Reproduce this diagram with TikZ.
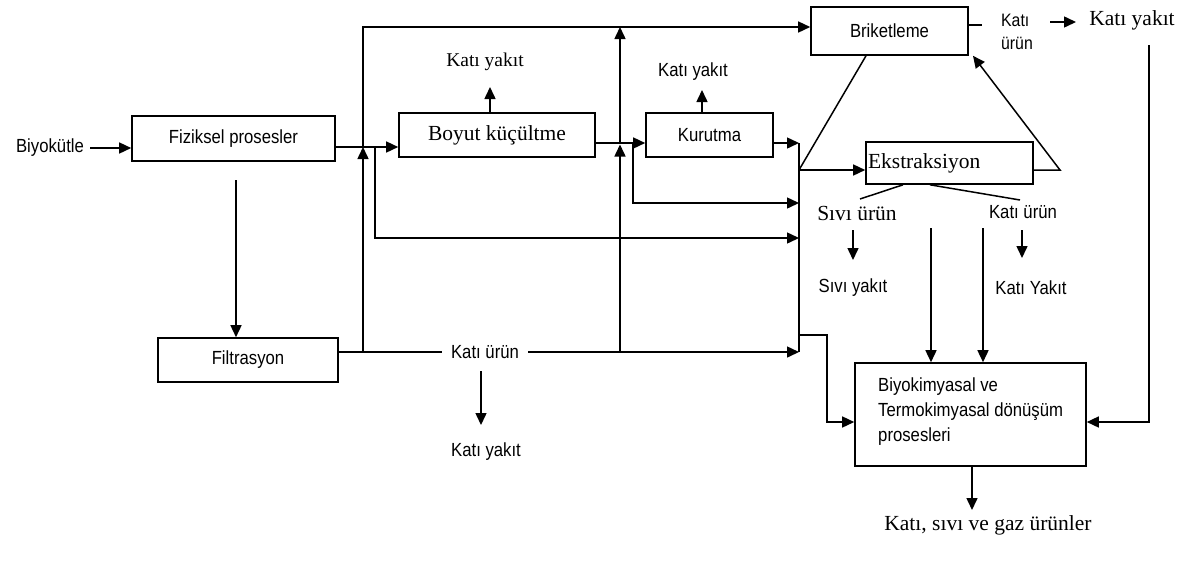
\documentclass[tikz,border=0pt]{standalone}
\usepackage{fontspec}
\setmainfont{Liberation Serif}
\setsansfont[FakeStretch=0.88]{Liberation Sans}
\usetikzlibrary{arrows.meta}

\tikzset{
  ln/.style={line width=1.5pt},
  arr/.style={ln,-{Triangle[length=12pt,width=11pt]}},
  procbox/.style={draw,line width=1.6pt,inner sep=0pt},
  sanslbl/.style={font=\sffamily\fontsize{19}{25}\selectfont,inner sep=1pt},
  seriflbl/.style={font=\rmfamily\fontsize{21.5}{25}\selectfont,inner sep=1pt},
}

\begin{document}
\begin{tikzpicture}[x=1pt,y=-1pt]
\useasboundingbox (0,0) rectangle (1189,571);

% process boxes
\node[procbox,sanslbl,inner sep=0pt,minimum width=203pt,minimum height=45pt] (fiz) at (233.5,138.5) {Fiziksel prosesler};
\node[procbox,seriflbl,inner sep=0pt,minimum width=196pt,minimum height=44pt] (boy) at (497,135) {Boyut küçültme};
\node[procbox,sanslbl,inner sep=0pt,minimum width=127pt,minimum height=44pt] (kur) at (709.5,135) {Kurutma};
\node[procbox,sanslbl,inner sep=0pt,minimum width=157pt,minimum height=48pt] (bri) at (889.5,31) {Briketleme};
\node[procbox,seriflbl,inner ysep=0pt,inner xsep=2pt,text width=163pt,align=left,minimum height=42pt] (eks) at (949.5,163) {Ekstraksiyon};
\node[procbox,sanslbl,inner sep=0pt,minimum width=180pt,minimum height=44pt] (fil) at (248,360) {Filtrasyon};
\node[procbox,minimum width=231pt,minimum height=103pt] (bkm) at (970.5,414.5) {};
\node[sanslbl,anchor=west,align=left,inner sep=0pt] (bkmt) at (878,412) {Biyokimyasal ve\\Termokimyasal dönüşüm\\prosesleri};

% free labels
\node[sanslbl] (bio) at (50,148) {Biyokütle};
\node[seriflbl,font=\rmfamily\fontsize{19.5}{22}\selectfont] (ky4) at (485,62) {Katı yakıt};
\node[sanslbl] (ky5) at (693,72) {Katı yakıt};
\node[sanslbl] (ku1) at (485,352) {Katı ürün};
\node[sanslbl] (ky1) at (486,452) {Katı yakıt};
\node[seriflbl] (su) at (857,213) {Sıvı ürün};
\node[sanslbl] (ku3) at (1023,212) {Katı ürün};
\node[sanslbl] (sy) at (853,288) {Sıvı yakıt};
\node[sanslbl] (ky3) at (1031,288) {Katı Yakıt};
\node[sanslbl,align=left,font=\sffamily\fontsize{18}{23}\selectfont] (ku2) at (1017,32) {Katı\\ürün};
\node[seriflbl] (ky2) at (1132,20) {Katı yakıt};
\node[seriflbl] (out) at (988,525) {Katı, sıvı ve gaz ürünler};

% junctions and bends
\coordinate (jA) at (363,147);
\coordinate (jB) at (375,147);
\coordinate (tT) at (363,27);
\coordinate (jC) at (620,143);
\coordinate (jD) at (633,143);
\coordinate (bT) at (799,143);
\coordinate (bE) at (799,170);
\coordinate (bD) at (799,203);
\coordinate (bM) at (799,238);
\coordinate (bK) at (799,335);
\coordinate (bB) at (799,352);
\coordinate (cK1) at (827,335);
\coordinate (cK2) at (827,422);
\coordinate (eR) at (1060,170);
\coordinate (cR1) at (1149,45);
\coordinate (cR2) at (1149,422);
\coordinate (fD) at (236,180);
\coordinate (v1) at (931,228);
\coordinate (v2) at (983,228);
\coordinate (bs) at (982,25);
\coordinate (kd) at (481,371);

% main flow
\draw[arr] ([xshift=5pt]bio.east) -- (fiz.west |- bio.east);
\draw[arr] (fiz.east |- jA) -- (boy.west |- jA);
\draw[arr] (jA) -- (tT) -- (bri.west |- tT);
\draw[arr] (jB) -- (jB |- bM) -- (bM);
\draw[arr] (fD) -- (fil.north -| fD);

% filtration output line
\draw[ln] (fil.east |- bB) -- ([xshift=-8pt]ku1.west);
\draw[arr] ([xshift=8pt]ku1.east) -- (bB);
\draw[arr] (jA |- bB) -- (jA);
\draw[arr] (jC |- bB) -- ([yshift=-1.5pt]jC);
\draw[arr] (kd) -- (kd |- 0,425);

% size reduction and drying
\draw[arr] (boy.north -| 490,0) -- (490,87);
\draw[arr] (boy.east |- jC) -- (kur.west |- jC);
\draw[arr] (jC) -- (jC |- tT);
\draw[arr] (jD) -- (jD |- bD) -- (bD);
\draw[arr] (kur.north -| 702,0) -- (702,90);
\draw[arr] (kur.east |- bT) -- (bT);

% collecting bus and conversion input
\draw[ln] (bT) -- (bB);
\draw[arr] (bK) -- (cK1) -- (cK2) -- (bkm.west |- cK2);

% extraction and briquetting
\draw[arr] (bE) -- (eks.west |- bE);
\draw[ln] (bE) -- ([xshift=-23.5pt]bri.south);
\draw[arr] (eks.east |- eR) -- (eR) -- ([xshift=83.5pt]bri.south);
\draw[ln] ([xshift=-46.5pt]eks.south) -- (860,199);
\draw[ln] ([xshift=-19.5pt]eks.south) -- (1020,200);
\draw[arr] (853,230) -- (853,260);
\draw[arr] (1022,230) -- (1022,258);
\draw[arr] (v1) -- (bkm.north -| v1);
\draw[arr] (v2) -- (bkm.north -| v2);

% briquette output
\draw[ln] (bri.east |- bs) -- (bs);
\draw[arr] (1050,22) -- (1076,22);
\draw[arr] (cR1) -- (cR2) -- (bkm.east |- cR2);

% final products
\draw[arr] (bkm.south -| 972,0) -- (972,510);
\end{tikzpicture}
\end{document}
